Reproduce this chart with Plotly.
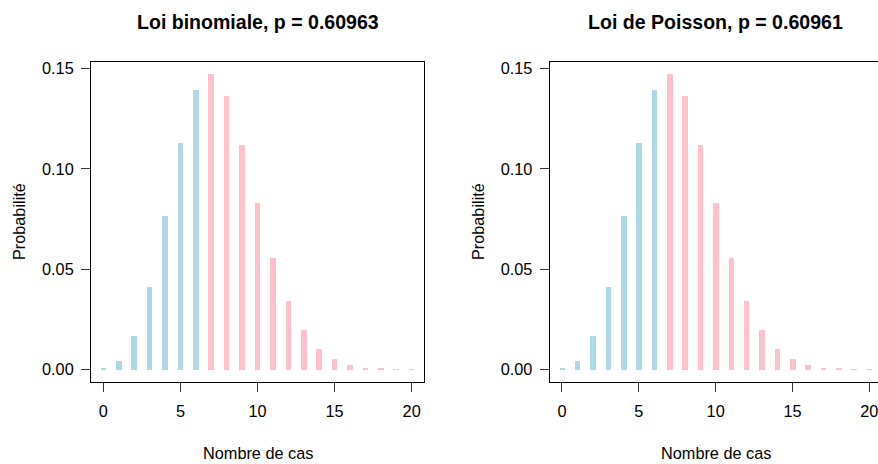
import plotly.graph_objects as go

# Data
cas = list(range(21))
prob_binom = [0.0006, 0.0045, 0.0167, 0.0413, 0.0763, 0.1130, 0.1394, 0.1473,
              0.1363, 0.1121, 0.0829, 0.0558, 0.0344, 0.0196, 0.0104, 0.0051,
              0.0024, 0.0010, 0.0004, 0.0002, 0.0001]
prob_poisson = [0.0006, 0.0045, 0.0167, 0.0413, 0.0763, 0.1130, 0.1394, 0.1473,
                0.1363, 0.1121, 0.0829, 0.0558, 0.0344, 0.0196, 0.0104, 0.0051,
                0.0024, 0.0010, 0.0004, 0.0002, 0.0001]
seuil = 6  # values <= seuil in light blue, others in pink
titres = ["Loi binomiale, p = 0.60963", "Loi de Poisson, p = 0.60961"]
x_ticks = [0, 5, 10, 15, 20]
y_ticks = [0.00, 0.05, 0.10, 0.15]

BLEU = "#ADD8E6"
ROSE = "#FFC0CB"
couleurs = [BLEU if c <= seuil else ROSE for c in cas]

W, H = 878, 464
FONT = "Liberation Sans, Arial, sans-serif"
fs = 16.3

fig = go.Figure()
fig.add_trace(go.Bar(x=cas, y=prob_binom, marker=dict(color=couleurs, line=dict(width=0)),
                     width=0.36, xaxis="x", yaxis="y", showlegend=False))
fig.add_trace(go.Bar(x=cas, y=prob_poisson, marker=dict(color=couleurs, line=dict(width=0)),
                     width=0.36, xaxis="x2", yaxis="y2", showlegend=False))

top, bot = 59.5, 381.0
ydom = [1 - bot / H, 1 - top / H]
L1, R1 = 91.0, 424.0
L2 = 549.7

common_x = dict(showline=True, linecolor="black", linewidth=1, ticks="outside", ticklen=9,
                tickcolor="#333", tickwidth=1, tickvals=x_ticks, showgrid=False, zeroline=False,
                tickfont=dict(family=FONT, size=fs, color="black"), mirror=True,
                ticklabelstandoff=6, ticklabeloverflow="allow")
common_y = dict(showline=True, linecolor="black", linewidth=1, ticks="outside", ticklen=9,
                tickcolor="#333", tickwidth=1, tickvals=y_ticks, tickformat=".2f",
                showgrid=False, zeroline=False, range=[-0.0059, 0.1532], domain=ydom,
                tickfont=dict(family=FONT, size=fs, color="black"), ticklabelstandoff=4)

fig.update_layout(
    width=W, height=H, margin=dict(l=0, r=0, t=0, b=0),
    paper_bgcolor="white", plot_bgcolor="white", bargap=0,
    xaxis=dict(common_x, domain=[L1 / W, R1 / W], range=[-0.8, 20.8], anchor="y"),
    yaxis=dict(common_y, anchor="x", mirror=True),
    xaxis2=dict(common_x, domain=[L2 / W, 1.0], range=[-0.8, -0.8 + (W - L2) / 15.365], anchor="y2"),
    yaxis2=dict(common_y, anchor="x2", mirror=False),
)

ann = []
centres = [(L1 + R1) / 2, (L2 + 881.6) / 2]
ylab_x = [18.5, 477.5]
for i in range(2):
    ann.append(dict(text="<b>" + titres[i] + "</b>", x=centres[i] / W, y=1 - 19.5 / H,
                    xref="paper", yref="paper", showarrow=False, xanchor="center", yanchor="middle",
                    font=dict(family=FONT, size=fs * 1.2, color="black")))
    ann.append(dict(text="Nombre de cas", x=centres[i] / W, y=1 - 453 / H,
                    xref="paper", yref="paper", showarrow=False, xanchor="center", yanchor="middle",
                    font=dict(family=FONT, size=fs, color="black")))
    ann.append(dict(text="Probabilité", x=ylab_x[i] / W, y=1 - 220 / H, textangle=-90,
                    xref="paper", yref="paper", showarrow=False, xanchor="center", yanchor="middle",
                    font=dict(family=FONT, size=fs, color="black")))
fig.update_layout(annotations=ann)

fig.write_html("out.html")
